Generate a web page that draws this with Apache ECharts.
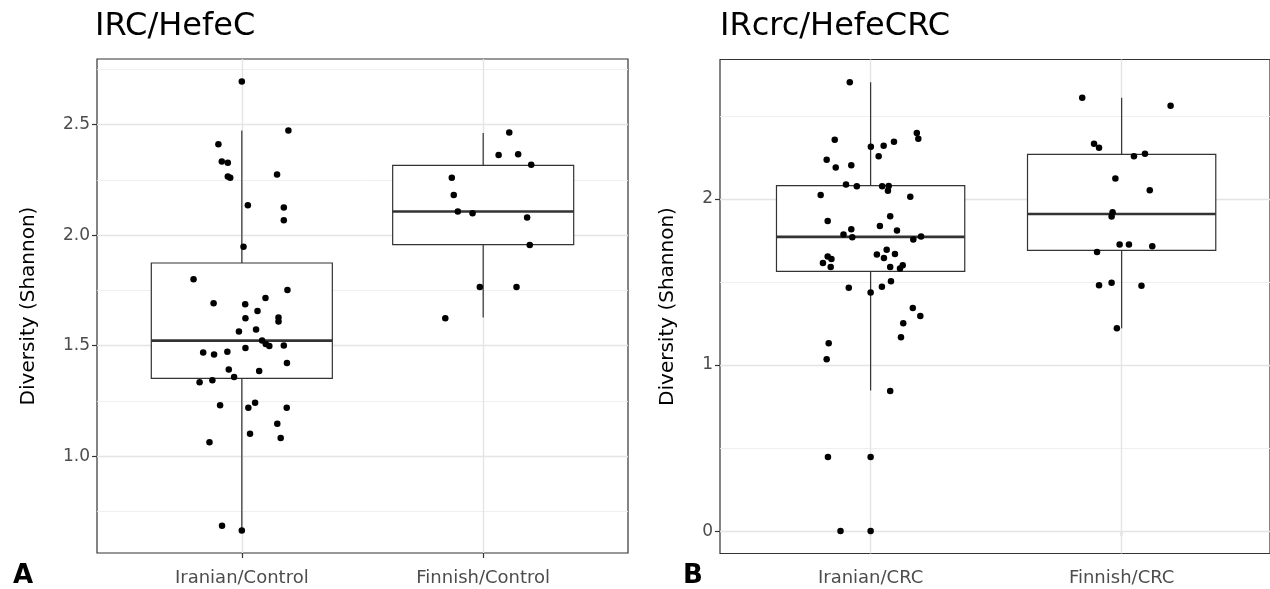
<!DOCTYPE html>
<html>
<head>
<meta charset="utf-8">
<script src="https://cdn.jsdelivr.net/npm/echarts@6/dist/echarts.min.js"></script>
<style>
  html, body { margin: 0; padding: 0; background: #fff; }
  #chart { width: 1270px; height: 589px; }
</style>
</head>
<body>
<div id="chart"></div>
<script>
const groupsA = ['Iranian/Control', 'Finnish/Control'];
const groupsB = ['Iranian/CRC', 'Finnish/CRC'];

const ticksA = [1.0, 1.5, 2.0, 2.5];
const minorA = [0.75, 1.25, 1.75, 2.25, 2.75];
const ticksB = [0, 1, 2];
const minorB = [0.5, 1.5, 2.5];

// box stats: [group, lower whisker, q1, median, q3, upper whisker]
const boxA = [
  [1, 0.664, 1.352, 1.523, 1.874, 2.474],
  [2, 1.627, 1.957, 2.107, 2.316, 2.462]
];
const boxB = [
  [1, 0.846, 1.564, 1.772, 2.08, 2.703],
  [2, 1.221, 1.69, 1.91, 2.269, 2.609]
];

// points: [jitter, shannon]
const iranianControl = [
  [0, 2.695], [0.193, 2.474], [-0.097, 2.411], [-0.083, 2.333], [-0.058, 2.328],
  [-0.058, 2.265], [-0.048, 2.26], [0.146, 2.274], [0.025, 2.135], [0.174, 2.125],
  [0.174, 2.068], [0.007, 1.948], [-0.2, 1.80], [0.189, 1.752], [-0.117, 1.692],
  [0.014, 1.687], [0.098, 1.716], [0.065, 1.657], [0.015, 1.624], [0.152, 1.627],
  [0.152, 1.609], [-0.012, 1.564], [0.059, 1.573], [0.084, 1.523], [0.099, 1.508],
  [0.114, 1.499], [0.174, 1.501], [0.015, 1.49], [-0.16, 1.469], [-0.115, 1.46],
  [-0.06, 1.472], [0.187, 1.422], [-0.054, 1.392], [0.072, 1.385], [-0.032, 1.358],
  [-0.175, 1.335], [-0.122, 1.344], [-0.09, 1.231], [0.027, 1.219], [0.055, 1.242],
  [0.186, 1.219], [0.147, 1.147], [0.034, 1.102], [0.161, 1.082], [-0.134, 1.063],
  [-0.082, 0.685], [0, 0.664]
];
const finnishControl = [
  [0.108, 2.465], [0.064, 2.363], [0.145, 2.366], [0.199, 2.318], [-0.13, 2.26],
  [-0.122, 2.182], [-0.105, 2.107], [-0.044, 2.099], [0.182, 2.08], [0.193, 1.955],
  [-0.014, 1.765], [0.138, 1.765], [-0.157, 1.624]
];
const iranianCRC = [
  [-0.083, 2.703], [-0.143, 2.357], [0.184, 2.397], [0.19, 2.363], [0.093, 2.345],
  [0.052, 2.321], [0.001, 2.315], [0.032, 2.257], [-0.175, 2.237], [-0.139, 2.189],
  [-0.077, 2.203], [-0.098, 2.087], [-0.055, 2.076], [0.046, 2.076], [0.072, 2.078],
  [0.069, 2.05], [-0.199, 2.024], [0.158, 2.014], [0.078, 1.896], [-0.171, 1.868],
  [0.037, 1.838], [-0.077, 1.818], [0.105, 1.81], [-0.108, 1.786], [-0.073, 1.77],
  [0.17, 1.756], [0.201, 1.774], [0.064, 1.694], [0.025, 1.666], [0.097, 1.668],
  [0.053, 1.644], [-0.171, 1.654], [-0.156, 1.638], [-0.19, 1.615], [-0.159, 1.591],
  [0.078, 1.591], [0.128, 1.601], [0.117, 1.582], [-0.087, 1.465], [0, 1.437],
  [0.045, 1.471], [0.081, 1.505], [0.168, 1.343], [0.198, 1.295], [0.13, 1.251],
  [0.121, 1.167], [-0.167, 1.131], [-0.175, 1.035], [0.078, 0.843], [-0.17, 0.446],
  [0, 0.446], [-0.12, 0], [0, 0]
];
const finnishCRC = [
  [-0.157, 2.609], [0.195, 2.561], [-0.11, 2.333], [-0.09, 2.309], [0.049, 2.258],
  [0.093, 2.273], [-0.025, 2.124], [0.112, 2.052], [-0.036, 1.92], [-0.04, 1.894],
  [-0.008, 1.726], [0.029, 1.726], [0.122, 1.716], [-0.098, 1.68], [-0.09, 1.481],
  [-0.04, 1.495], [0.079, 1.477], [-0.019, 1.221]
];

const FONT = "'DejaVu Sans', 'Liberation Sans', Arial, sans-serif";
const BOX_WIDTH = 0.75;

function renderBox(params, api) {
  const x = api.value(0);
  const half = BOX_WIDTH / 2;
  const lo = api.coord([x, api.value(1)]);
  const q1 = api.coord([x, api.value(2)]);
  const q3 = api.coord([x, api.value(4)]);
  const hi = api.coord([x, api.value(5)]);
  const medL = api.coord([x - half, api.value(3)]);
  const medR = api.coord([x + half, api.value(3)]);
  const tl = api.coord([x - half, api.value(4)]);
  const br = api.coord([x + half, api.value(2)]);
  const stroke = '#333333';
  return {
    type: 'group',
    children: [
      { type: 'line', shape: { x1: hi[0], y1: hi[1], x2: q3[0], y2: q3[1] }, style: { stroke, lineWidth: 1.2 } },
      { type: 'line', shape: { x1: lo[0], y1: lo[1], x2: q1[0], y2: q1[1] }, style: { stroke, lineWidth: 1.2 } },
      { type: 'rect', shape: { x: tl[0], y: tl[1], width: br[0] - tl[0], height: br[1] - tl[1] },
        style: { fill: '#ffffff', stroke, lineWidth: 1.2 } },
      { type: 'line', shape: { x1: medL[0], y1: medL[1], x2: medR[0], y2: medR[1] }, style: { stroke, lineWidth: 2.6 } }
    ]
  };
}

function gridLines(ticks, minor, cats) {
  const major = { lineStyle: { color: '#e4e4e4', width: 1.4, type: 'solid' } };
  const thin = { lineStyle: { color: '#ededed', width: 0.9, type: 'solid' } };
  return {
    silent: true,
    z: 1,
    symbol: ['none', 'none'],
    label: { show: false },
    animation: false,
    data: [
      ...minor.map(v => Object.assign({ yAxis: v }, thin)),
      ...ticks.map(v => Object.assign({ yAxis: v }, major)),
      ...cats.map((c, i) => Object.assign({ xAxis: i + 1 }, major))
    ]
  };
}

function makeX(idx, cats, max) {
  return {
    type: 'value', gridIndex: idx, min: 0.4, max: max,
    axisLine: { show: false },
    splitLine: { show: false },
    axisTick: { show: true, customValues: [1, 2], length: 5, lineStyle: { color: '#333', width: 1.2 } },
    axisLabel: {
      customValues: [1, 2], margin: 16, fontSize: 18, color: '#4d4d4d', fontFamily: FONT,
      formatter: v => cats[Math.round(v) - 1]
    }
  };
}

function makeY(idx, min, max, ticks, digits, gap) {
  return {
    type: 'value', gridIndex: idx, min: min, max: max,
    name: 'Diversity (Shannon)', nameLocation: 'middle', nameGap: gap,
    nameTextStyle: { fontSize: 20, color: '#000', fontFamily: FONT },
    axisLine: { show: false },
    splitLine: { show: false },
    axisTick: { show: true, customValues: ticks, length: 5, lineStyle: { color: '#333', width: 1.2 } },
    axisLabel: {
      customValues: ticks, margin: 7, fontSize: 17, color: '#4d4d4d', fontFamily: FONT,
      formatter: v => Number(v).toFixed(digits)
    }
  };
}

function points(list, group) {
  return list.map(([j, v]) => [group + j, v]);
}

const chart = echarts.init(document.getElementById('chart'), null, { renderer: 'canvas' });

chart.setOption({
  animation: false,
  backgroundColor: '#ffffff',
  title: [
    { text: 'IRC/HefeC', left: 95, top: 11, padding: 0,
      textStyle: { fontSize: 32, fontWeight: 'normal', color: '#000', fontFamily: FONT } },
    { text: 'IRcrc/HefeCRC', left: 720, top: 11, padding: 0,
      textStyle: { fontSize: 32, fontWeight: 'normal', color: '#000', fontFamily: FONT } }
  ],
  graphic: [
    { type: 'text', left: 13, top: 563, style: { text: 'A', font: 'bold 26px ' + FONT, fill: '#000' } },
    { type: 'text', left: 683, top: 563, style: { text: 'B', font: 'bold 26px ' + FONT, fill: '#000' } }
  ],
  grid: [
    { left: 97, top: 59, width: 531, height: 494, show: true, borderColor: '#333', borderWidth: 1.2, backgroundColor: 'transparent' },
    { left: 720, top: 59.5, width: 550, height: 494, show: true, borderColor: '#333', borderWidth: 1.2, backgroundColor: 'transparent' }
  ],
  xAxis: [makeX(0, groupsA, 2.6), makeX(1, groupsB, 2.591)],
  yAxis: [makeY(0, 0.562, 2.797, ticksA, 1, 58), makeY(1, -0.135, 2.84, ticksB, 0, 42)],
  series: [
    { type: 'scatter', xAxisIndex: 0, yAxisIndex: 0, data: [], z: 1, markLine: gridLines(ticksA, minorA, groupsA) },
    { type: 'scatter', xAxisIndex: 1, yAxisIndex: 1, data: [], z: 1, markLine: gridLines(ticksB, minorB, groupsB) },
    { type: 'custom', xAxisIndex: 0, yAxisIndex: 0, z: 10, renderItem: renderBox, data: boxA, silent: true },
    { type: 'custom', xAxisIndex: 1, yAxisIndex: 1, z: 10, renderItem: renderBox, data: boxB, silent: true },
    { type: 'scatter', xAxisIndex: 0, yAxisIndex: 0, z: 12, symbolSize: 6.5, itemStyle: { color: '#000', opacity: 1 },
      data: points(iranianControl, 1).concat(points(finnishControl, 2)) },
    { type: 'scatter', xAxisIndex: 1, yAxisIndex: 1, z: 12, symbolSize: 6.5, itemStyle: { color: '#000', opacity: 1 },
      data: points(iranianCRC, 1).concat(points(finnishCRC, 2)) }
  ]
});
</script>
</body>
</html>
